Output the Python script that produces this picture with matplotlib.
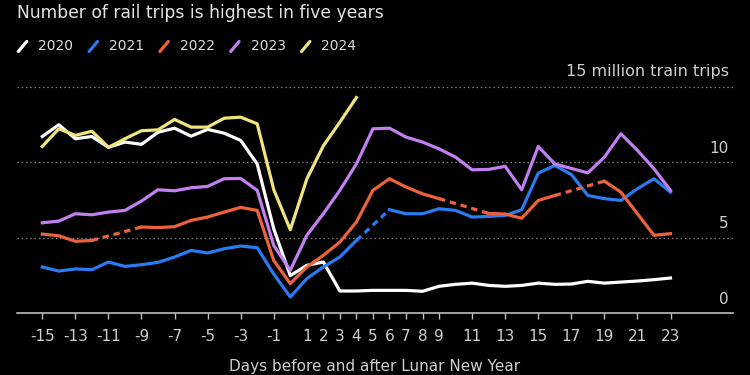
import numpy as np
import matplotlib.pyplot as plt
from matplotlib.lines import Line2D

nan = np.nan

# days relative to Lunar New Year (-15 ... 23)
days = list(range(-15, 24))

# million train trips per day (nan = no data)
trips_2020 = [11.72, 12.5, 11.57, 11.72, 11.0, 11.35, 11.2, 12.0, 12.27, 11.74,
              12.19, 11.94, 11.46, 9.9, 5.6, 2.5, 3.18, 3.4, 1.48, 1.48,
              1.52, 1.52, 1.52, 1.46, 1.79, 1.92, 2.0, 1.85, 1.79, 1.85,
              2.0, 1.92, 1.94, 2.12, 2.0, 2.07, 2.14, 2.23, 2.34]
trips_2021 = [3.07, 2.8, 2.94, 2.89, 3.4, 3.11, 3.22, 3.38, 3.73, 4.17,
              4.0, 4.28, 4.46, 4.35, 2.6, 1.08, 2.3, 3.07, 3.73, 4.83,
              nan, 6.87, 6.6, 6.6, 6.93, 6.82, 6.38, 6.42, 6.49, 6.87,
              9.29, 9.8, 9.2, 7.81, 7.6, 7.48, 8.26, 8.92, 8.03]
trips_2022 = [5.25, 5.14, 4.77, 4.83, nan, nan, 5.72, 5.68, 5.74, 6.16,
              6.38, 6.71, 7.02, 6.82, 3.5, 1.97, 3.07, 3.84, 4.72, 6.05,
              8.15, 8.92, 8.37, 7.92, 7.6, nan, nan, 6.62, 6.58, 6.3,
              7.48, 7.81, nan, nan, 8.76, 8.03, 6.6, 5.17, 5.28]
trips_2023 = [6.0, 6.11, 6.6, 6.53, 6.71, 6.82, 7.44, 8.19, 8.12, 8.32,
              8.41, 8.92, 8.94, 8.15, 4.5, 2.85, 5.17, 6.6, 8.15, 9.9,
              12.23, 12.27, 11.68, 11.35, 10.9, 10.35, 9.51, 9.54, 9.74, 8.19,
              11.06, 9.9, 9.6, 9.31, 10.35, 11.9, 10.8, 9.58, 8.15]
trips_2024 = [11.06, 12.23, 11.79, 12.07, 11.0, 11.57, 12.1, 12.16, 12.85, 12.34,
              12.34, 12.93, 13.0, 12.56, 8.2, 5.54, 8.9, 11.1, 12.67, 14.3] + [nan] * 19

years = ['2020', '2021', '2022', '2023', '2024']
series = [trips_2020, trips_2021, trips_2022, trips_2023, trips_2024]
colors = ['#ffffff', '#2a7af2', '#ec633b', '#c17ff0', '#f1e47c']

xticks = [-15, -13, -11, -9, -7, -5, -3, -1, 1, 2, 3, 4, 5, 6, 7, 8, 9,
          11, 13, 15, 17, 19, 21, 23]
yticks = [0, 5, 10]

fig = plt.figure(figsize=(7.5, 3.75), dpi=100, facecolor='black')
ax = fig.add_axes([17 / 750, 0.1645, 716 / 750, 0.6035])
ax.set_facecolor('black')

# dotted grid
for v in [5, 10, 15]:
    ax.axhline(v, color='#808080', lw=0.9, ls=(0, (1.2, 2.2)), clip_on=False, zorder=1)

x = np.array(days, dtype=float)
for name, vals, col in zip(years, series, colors):
    y = np.array(vals, dtype=float)
    ax.plot(x, y, color=col, lw=2.3, zorder=3)
    # dashed bridge over missing days
    idx = np.where(~np.isnan(y))[0]
    for a, b in zip(idx[:-1], idx[1:]):
        if b - a > 1:
            ax.plot([x[a], x[b]], [y[a], y[b]], color=col, lw=2.3,
                    ls=(0, (2, 1.5)), dash_capstyle='butt', zorder=3)

ax.set_xlim(-16.53, 26.78)
ax.set_ylim(0, 15)

for s in ['top', 'left', 'right']:
    ax.spines[s].set_visible(False)
ax.spines['bottom'].set_color('#bdbdbd')
ax.spines['bottom'].set_linewidth(1.2)

ax.set_xticks(xticks)
ax.set_xticklabels([str(t) for t in xticks])
ax.set_yticks([])
ax.tick_params(axis='x', colors='#bdbdbd', labelcolor='#cfcfcf', length=4.3,
               width=1, labelsize=11, pad=7)

# right-side value labels sitting above the grid lines
ytr = ax.get_yaxis_transform()
for v in yticks:
    ax.text(0.9944, v + 0.63, str(v), transform=ytr, ha='right', va='baseline',
            color='#cfcfcf', fontsize=11)
ax.text(0.9944, 15.72, '15 million train trips', transform=ytr, ha='right',
        va='baseline', color='#cfcfcf', fontsize=11.5)

fig.text(17 / 750, 1 - 18 / 375, 'Number of rail trips is highest in five years',
         ha='left', va='baseline', color='#e4e4e4', fontsize=12.3)

# legend: slanted strokes + year labels
for i, (name, col) in enumerate(zip(years, colors)):
    x0 = 18.3 + i * 70.8
    fig.add_artist(Line2D([x0 / 750, (x0 + 8.4) / 750],
                          [1 - 51.5 / 375, 1 - 41.5 / 375],
                          color=col, lw=2.3, solid_capstyle='round'))
    fig.text((x0 + 20) / 750, 1 - 50 / 375, name, ha='left', va='baseline',
             color='#dddddd', fontsize=10)

fig.text(0.5, 1 - 366 / 375, 'Days before and after Lunar New Year',
         ha='center', va='center', color='#cfcfcf', fontsize=11)

fig.savefig('out.png', dpi=100, facecolor='black')
